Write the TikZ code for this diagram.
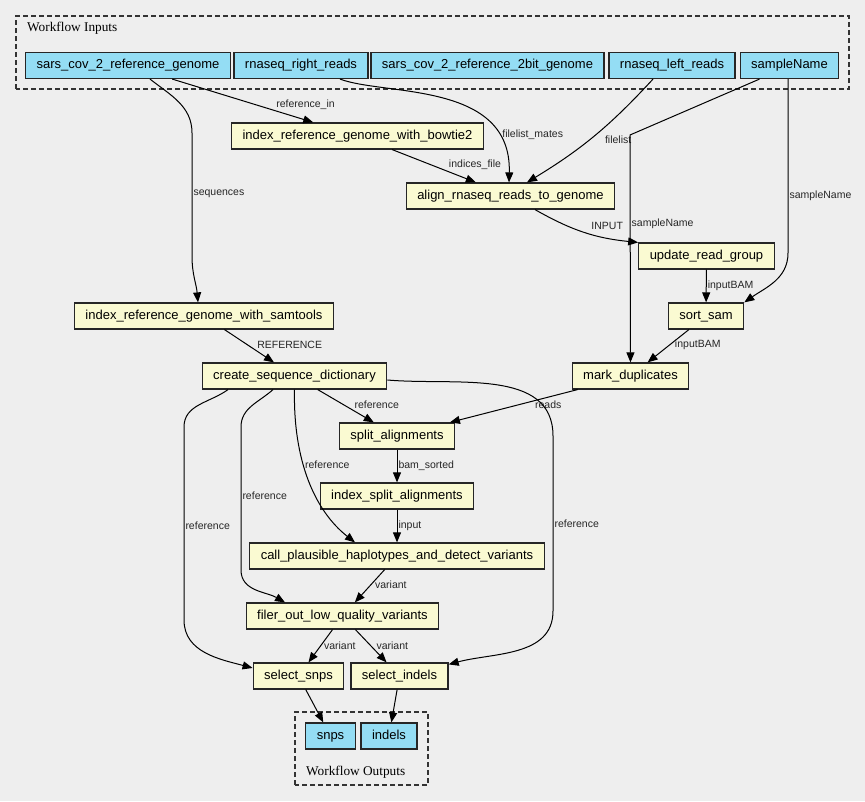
\documentclass[tikz,border=0pt]{standalone}
\usepackage{fontspec}
\setmainfont{Liberation Sans}
\newfontfamily\clusterfont{Liberation Serif}
\usetikzlibrary{arrows.meta}
\definecolor{inblue}{HTML}{94DDF4}
\definecolor{stepyellow}{HTML}{FAFAD2}
\definecolor{canvas}{HTML}{EEEEEE}

\begin{document}
\begin{tikzpicture}[x=1pt, y=1pt,
    box/.style ={draw=black!85, line width=1.2pt, minimum height=26pt, inner xsep=11pt, inner ysep=0pt, text height=9.5pt, text depth=2.5pt, font=\fontsize{13}{15}\selectfont},
    wfinput/.style ={box, fill=inblue},
    wfstep/.style ={box, fill=stepyellow},
    flow/.style ={line width=1pt, -{Triangle[length=10pt, width=8pt]}},
    lbl/.style ={font=\fontsize{10.5}{12}\selectfont, text=black!85, inner sep=1pt, anchor=west},
    clusterbox/.style ={draw=black!80, line width=1.2pt, dash pattern=on 5pt off 3pt},
    clustertitle/.style ={anchor=west, inner sep=0pt, font=\clusterfont\fontsize{13.3}{15}\selectfont}]
   \fill[canvas] (0,0) rectangle (865,801);
   \useasboundingbox (0,0) rectangle (865,801);
   % clusters
   \draw[clusterbox] (16,712) rectangle (849,785);
   \node[clustertitle] (intitle) at (27,773) {Workflow Inputs};
   \draw[clusterbox] (295,16) rectangle (428,89);
   \node[clustertitle] (outtitle) at (306,29) {Workflow Outputs};
   % inputs
   \node[wfinput] (refgenome)  at (128,735.5)  {sars\_cov\_2\_reference\_genome};
   \node[wfinput] (rightreads) at (301,735.5)  {rnaseq\_right\_reads};
   \node[wfinput] (twobit)     at (487.5,735.5) {sars\_cov\_2\_reference\_2bit\_genome};
   \node[wfinput] (leftreads)  at (672,735.5)  {rnaseq\_left\_reads};
   \node[wfinput] (samplename) at (789.5,735.5) {sampleName};
   % steps
   \node[wfstep] (bowtie)     at (357.5,665) {index\_reference\_genome\_with\_bowtie2};
   \node[wfstep] (align)      at (510.5,605) {align\_rnaseq\_reads\_to\_genome};
   \node[wfstep] (readgroup)  at (706.5,545) {update\_read\_group};
   \node[wfstep] (sortsam)    at (706,485)   {sort\_sam};
   \node[wfstep] (samtools)   at (204,485)   {index\_reference\_genome\_with\_samtools};
   \node[wfstep] (markdup)    at (630.5,425) {mark\_duplicates};
   \node[wfstep] (seqdict)    at (294.5,425) {create\_sequence\_dictionary};
   \node[wfstep] (split)      at (397,365)   {split\_alignments};
   \node[wfstep] (indexsplit) at (397,305)   {index\_split\_alignments};
   \node[wfstep] (haplo)      at (397,245)   {call\_plausible\_haplotypes\_and\_detect\_variants};
   \node[wfstep] (filter)     at (342.5,185) {filer\_out\_low\_quality\_variants};
   \node[wfstep] (selsnps)    at (298.5,125) {select\_snps};
   \node[wfstep] (selindels)  at (399.5,125) {select\_indels};
   % outputs
   \node[wfinput] (snps)   at (330.5,65) {snps};
   \node[wfinput] (indels) at (389,65)   {indels};
   % connectors
   \draw[flow] (refgenome) -- node[lbl, pos=0.6, xshift=18pt] {reference\_in} (bowtie);
   \draw[flow] ([xshift=22pt]refgenome.south) to[out=-38, in=90] (192,668) -- node[lbl, pos=0.49] {sequences} (192,545) to[out=-90, in=95] ([xshift=-6pt]samtools.north);
   \draw[flow] ([xshift=39pt]rightreads.south) .. controls (385,705) and (512,720) .. node[lbl, pos=0.8, xshift=4pt] {filelist\_mates} ([xshift=-1.5pt]align.north);
   \draw[flow] (bowtie) -- node[lbl, pos=0.47, xshift=16pt] {indices\_file} (align);
   \draw[flow] ([xshift=-19pt]leftreads.south) to[bend left=8] node[lbl, pos=0.54, xshift=14pt] {filelist} ([xshift=16.5pt]align.north);
   \draw[flow] ([xshift=-30pt]samplename.south) -- (630,666) -- node[lbl, pos=0.39] {sampleName} (markdup);
   \draw[flow] ([xshift=-1.5pt]samplename.south) -- node[lbl, pos=0.67] {sampleName} (788,548) to[out=-90, in=35] (sortsam.north east);
   \draw[flow] ([xshift=24.5pt]align.south) to[bend right=12] node[lbl, pos=0.62, anchor=south, xshift=11pt, yshift=4pt] {INPUT} (readgroup.north west);
   \draw[flow] (readgroup) -- node[lbl] {inputBAM} (sortsam);
   \draw[flow] (sortsam) -- node[lbl, pos=0.47, xshift=4pt] {inputBAM} (markdup);
   \draw[flow] (samtools) -- node[lbl, pos=0.47, xshift=8pt] {REFERENCE} (seqdict);
   \draw[flow] (markdup) -- node[lbl, pos=0.47, xshift=16pt] {reads} (split);
   \draw[flow] (seqdict) -- node[lbl, pos=0.47, xshift=9pt] {reference} (split);
   \draw[flow] (split) -- node[lbl] {bam\_sorted} (indexsplit);
   \draw[flow] (indexsplit) -- node[lbl] {input} (haplo);
   \draw[flow] (seqdict.south) .. controls (293,340) and (315,290) .. node[lbl, pos=0.4] {reference} ([xshift=-42pt]haplo.north);
   \draw[flow] ([xshift=-21.5pt]seqdict.south) to[out=-138, in=90] (241,374) -- node[lbl, pos=0.48] {reference} (241,231) to[out=-90, in=150] ([xshift=-57.5pt]filter.north);
   \draw[flow] ([xshift=-66.5pt]seqdict.south) to[out=-144, in=90] (184,374) -- node[lbl, pos=0.51] {reference} (184,181) to[out=-90, in=165] ([yshift=8pt]selsnps.west);
   \draw[flow] ([yshift=-4pt]seqdict.east) to[out=-5, in=90] (553,365) -- node[lbl, pos=0.5] {reference} (553,190) to[out=-90, in=15] ([yshift=-2pt]selindels.north east);
   \draw[flow] (haplo) -- node[lbl, pos=0.47, xshift=3pt] {variant} (filter);
   \draw[flow] (filter) -- node[lbl, pos=0.5, xshift=2pt] {variant} (selsnps);
   \draw[flow] (filter) -- node[lbl, pos=0.5, xshift=4pt] {variant} (selindels);
   \draw[flow] (selsnps) -- (snps);
   \draw[flow] (selindels) -- (indels);
 \end{tikzpicture}
\end{document}
